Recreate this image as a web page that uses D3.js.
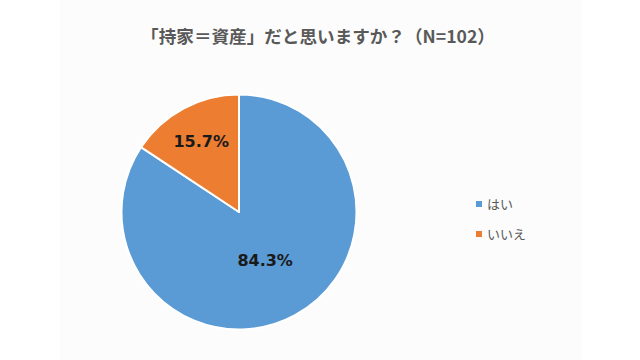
<!DOCTYPE html>
<html><head><meta charset="utf-8">
<script src="https://cdn.jsdelivr.net/npm/d3@7"></script>
<style>html,body{margin:0;padding:0;background:#fff;}</style>
</head><body>
<script>
const title = "「持家＝資産」だと思いますか？（N=102）";
const categories = ["はい", "いいえ"];
const values = [84.3, 15.7];
const colors = ["#5B9BD5", "#ED7D31"];

const W = 640, H = 360;
const svg = d3.select("body").append("svg").attr("width", W).attr("height", H);
svg.append("rect").attr("x", 60).attr("y", 0).attr("width", 522).attr("height", H).attr("fill", "#fcfcfc");

svg.append("text").attr("x", 318).attr("y", 43).attr("text-anchor", "middle")
  .attr("font-family", "'Noto Sans CJK JP', sans-serif").attr("font-weight", "bold")
  .attr("font-size", 17.6).attr("fill", "#595959").text(title);

const cx = 239, cy = 212, r = 117.5;
const data = categories.map((c, i) => ({c, v: values[i], i}));
const pie = d3.pie().sort(null).value(d => d.v);
const arcs = pie(data);
const arc = d3.arc().innerRadius(0).outerRadius(r);
const g = svg.append("g").attr("transform", `translate(${cx},${cy})`);
g.selectAll("path").data(arcs).join("path")
  .attr("d", arc).attr("fill", d => colors[d.data.i])
  .attr("stroke", "#fff").attr("stroke-width", 2).attr("stroke-linejoin", "round");

const labelFrac = [0.47, 0.68];
g.selectAll("text.lbl").data(arcs).join("text").attr("class", "lbl")
  .attr("transform", d => {
    const a = (d.startAngle + d.endAngle) / 2;
    const rr = r * labelFrac[d.data.i];
    return `translate(${rr * Math.sin(a)},${-rr * Math.cos(a)})`;
  })
  .attr("text-anchor", "middle").attr("dy", "0.36em")
  .attr("font-family", "'DejaVu Sans', Verdana, sans-serif").attr("font-weight", "bold")
  .attr("font-size", 16).attr("fill", "#1a1a1a")
  .text(d => d.data.v.toFixed(1) + "%");

const leg = svg.append("g");
categories.forEach((c, i) => {
  const y = 204 + i * 30;
  leg.append("rect").attr("x", 476).attr("y", y - 3).attr("width", 6).attr("height", 6).attr("fill", colors[i]);
  leg.append("text").attr("x", 487).attr("y", y).attr("dy", "0.35em")
    .attr("font-family", "'Noto Sans CJK JP', sans-serif").attr("font-size", 13)
    .attr("fill", "#595959").text(c);
});
</script>
</body></html>
